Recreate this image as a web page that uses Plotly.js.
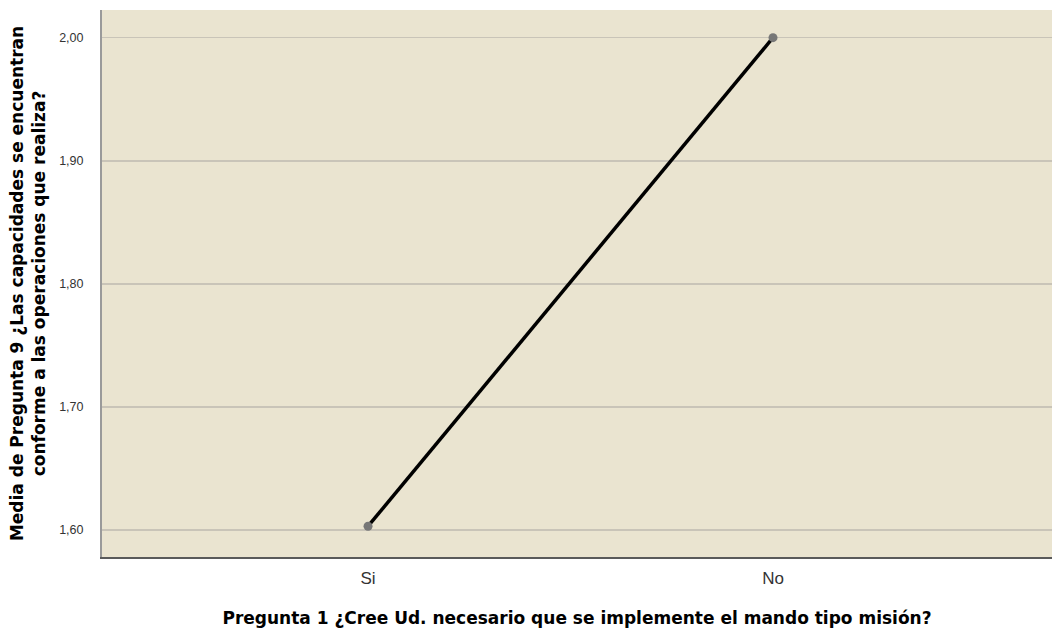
<!DOCTYPE html>
<html>
<head>
<meta charset="utf-8">
<script src="https://cdn.plot.ly/plotly-3.0.1.min.js"></script>
<style>html,body{margin:0;padding:0;background:#fff;}#chart{width:1052px;height:631px;}</style>
</head>
<body>
<div id="chart"></div>
<script>
const categories = ["Si", "No"];
const means = [1.603, 2.00];
const yTicks = [1.60, 1.70, 1.80, 1.90, 2.00];

const trace = {
  x: [0, 1],
  y: means,
  type: "scatter",
  mode: "lines+markers",
  line: {color: "#000000", width: 3.5},
  marker: {color: "#777777", size: 9},
  hoverinfo: "skip",
  cliponaxis: false
};

const titleFont = {size: 17, color: "#000000", family: "DejaVu Sans, Arial, sans-serif", weight: "bold"};

const layout = {
  width: 1052, height: 631,
  margin: {l: 102, r: 0, t: 10, b: 74},
  paper_bgcolor: "#ffffff",
  plot_bgcolor: "#EAE4D0",
  separators: ",.",
  showlegend: false,
  font: {family: "Arial, Liberation Sans, sans-serif", color: "#333333"},
  xaxis: {
    range: [-0.657, 1.689],
    tickvals: [0, 1],
    ticktext: categories,
    showgrid: false, zeroline: false,
    showline: true, linecolor: "#5a5a5a", linewidth: 2,
    ticks: "", ticklen: 0,
    ticklabelstandoff: 5,
    tickfont: {size: 17, color: "#333333"},
    title: {text: "Pregunta 1 ¿Cree Ud. necesario que se implemente el mando tipo misión?",
            font: titleFont, standoff: 25}
  },
  yaxis: {
    range: [1.578, 2.0225],
    tickvals: yTicks,
    tickformat: ".2f",
    showgrid: true, gridcolor: "#C9C4B8", gridwidth: 1.5,
    zeroline: false,
    showline: true, linecolor: "#9a9a9a", linewidth: 2,
    ticks: "", ticklen: 0,
    ticklabelstandoff: 14,
    tickfont: {size: 12.5, color: "#333333"},
    title: {text: "Media de Pregunta 9 ¿Las capacidades se encuentran<br>conforme a las operaciones que realiza?",
            font: titleFont, standoff: 9}
  }
};

Plotly.newPlot("chart", [trace], layout, {displayModeBar: false, staticPlot: true});
</script>
</body>
</html>
